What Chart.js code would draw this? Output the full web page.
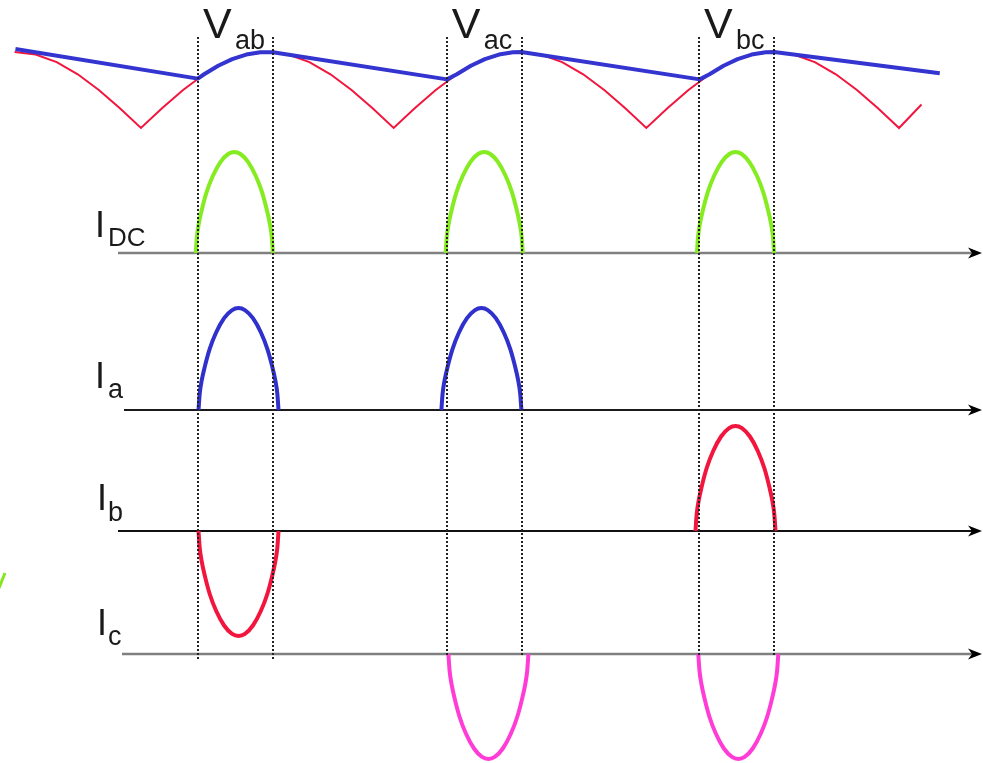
<!DOCTYPE html>
<html>
<head>
<meta charset="utf-8">
<script src="https://cdn.jsdelivr.net/npm/chart.js@4"></script>
<style>
  html, body { margin: 0; padding: 0; background: #fff; }
  canvas { display: block; }
</style>
</head>
<body>
<canvas id="chart" width="983" height="763"></canvas>
<script>
// Electrical angle in degrees, voltages and currents in per unit.

// Rectified line voltage |v| (red) and output voltage across the capacitor (blue).
const redAngles = [90, 105, 120, 135, 150, 165, 180, 195, 210, 225, 240, 255, 270, 285, 300, 315, 330, 345, 360,
  375, 390, 405, 420, 435, 450, 465, 480, 495, 510, 525, 540, 555, 570, 585, 600, 615, 630, 645, 660, 675, 690, 705, 720, 736];
const redValues = [1, 0.966, 0.866, 0.707, 0.5, 0.259, 0, 0.259, 0.5, 0.707, 0.866, 0.966, 1, 0.966, 0.866, 0.707, 0.5, 0.259, 0,
  0.259, 0.5, 0.707, 0.866, 0.966, 1, 0.966, 0.866, 0.707, 0.5, 0.259, 0, 0.259, 0.5, 0.707, 0.866, 0.966, 1, 0.966, 0.866, 0.707, 0.5, 0.259, 0, 0.31];

const blueAngles = [90.6, 220.5, 225, 235, 245, 255, 265, 274, 398, 405, 415, 425, 435, 445, 451,
  578, 585, 595, 605, 615, 625, 631, 749];
const blueValues = [1.04, 0.65, 0.707, 0.819, 0.906, 0.966, 0.996, 0.998, 0.64, 0.707, 0.819, 0.906, 0.966, 0.996, 0.999,
  0.64, 0.707, 0.819, 0.906, 0.966, 0.996, 0.999, 0.72];

// Conduction windows, one per line voltage.
const windowNames  = ['ab', 'ac', 'bc'];
const windowAngles = [[220.6, 274.1], [397.9, 451.3], [577.5, 630.9]];

// Shape of one current pulse: position across the pulse (0..1) and level (fraction of peak).
const pulseFractions = [0, 0.015, 0.04, 0.08, 0.14, 0.22, 0.32, 0.42, 0.5, 0.58, 0.68, 0.78, 0.86, 0.92, 0.96, 0.985, 1];
const pulseLevels    = [0, 0.16, 0.29, 0.43, 0.6, 0.76, 0.9, 0.98, 1, 0.98, 0.9, 0.76, 0.6, 0.43, 0.29, 0.16, 0];

// Start/end angle of every pulse, and its direction.
const idcWindows = [[219, 274], [397, 452], [576, 631]];
const idcSigns   = [1, 1, 1];
const iaWindows  = [[221, 278], [394, 451]];
const iaSigns    = [1, 1];
const ibWindows  = [[221, 278], [575, 632]];
const ibSigns    = [-1, 1];
const icWindows  = [[399, 456], [577, 634]];
const icSigns    = [-1, -1];

// --- layout ---
const W = 983, H = 763;
const X_MIN = 79.6, X_MAX = 779.8;
// baseline pixel and pixels per unit for every trace
const BAND = {
  yV:   { base: 128, unit: 76 },
  yIdc: { base: 253, unit: 101 },
  yIa:  { base: 410, unit: 102 },
  yIb:  { base: 531, unit: 105 },
  yIc:  { base: 654, unit: 105 }
};
const FONT = '"Liberation Sans", Arial, sans-serif';

function band(id) {
  const b = BAND[id];
  return { display: false, min: (b.base - H) / b.unit, max: b.base / b.unit };
}

function series(angles, values) {
  return angles.map((a, i) => ({ x: a, y: values[i] }));
}

function pulseSeries(windows, signs) {
  const pts = [];
  windows.forEach(([start, end], p) => {
    if (p > 0) pts.push({ x: start, y: null });
    pulseFractions.forEach((f, i) => pts.push({ x: start + f * (end - start), y: signs[p] * pulseLevels[i] }));
  });
  return pts;
}

function pulseSet(data, color, axis) {
  return {
    data, yAxisID: axis, borderColor: color, borderWidth: 4,
    cubicInterpolationMode: 'monotone', borderCapStyle: 'butt', borderJoinStyle: 'round',
    pointRadius: 0, fill: false
  };
}

function subLabel(ctx, main, sub, x, y, mainSize, subSize, dx, dy) {
  ctx.fillStyle = '#1a1a1a';
  ctx.textAlign = 'left';
  ctx.textBaseline = 'alphabetic';
  ctx.font = mainSize + 'px ' + FONT;
  ctx.fillText(main, x, y);
  ctx.font = subSize + 'px ' + FONT;
  ctx.fillText(sub, x + dx, y + dy);
}

function arrowAxis(ctx, x0, y, color, width) {
  ctx.beginPath();
  ctx.strokeStyle = color;
  ctx.lineWidth = width;
  ctx.moveTo(x0, y);
  ctx.lineTo(974, y);
  ctx.stroke();
  ctx.beginPath();
  ctx.fillStyle = '#000';
  ctx.moveTo(982, y);
  ctx.lineTo(968, y - 5.5);
  ctx.lineTo(972, y);
  ctx.lineTo(968, y + 5.5);
  ctx.closePath();
  ctx.fill();
}

const diagramPlugin = {
  id: 'diagram',
  beforeDatasetsDraw(c) {
    const ctx = c.ctx;
    ctx.save();
    arrowAxis(ctx, 118, c.scales.yIdc.getPixelForValue(0), '#808080', 2.5);
    arrowAxis(ctx, 124, c.scales.yIa.getPixelForValue(0), '#1a1a1a', 2);
    arrowAxis(ctx, 118, c.scales.yIb.getPixelForValue(0), '#111', 2);
    arrowAxis(ctx, 122, c.scales.yIc.getPixelForValue(0), '#808080', 2.5);
    ctx.restore();
  },
  afterDatasetsDraw(c) {
    const ctx = c.ctx, xs = c.scales.x;
    ctx.save();

    // Commutation markers: dotted verticals bounding each conduction window.
    ctx.strokeStyle = '#222';
    ctx.lineWidth = 2;
    ctx.setLineDash([2, 2]);
    windowAngles.forEach((pair, i) => {
      const bottom = i === 0 ? 660 : 655;
      pair.forEach(a => {
        const x = Math.round(xs.getPixelForValue(a));
        ctx.beginPath();
        ctx.moveTo(x, 37);
        ctx.lineTo(x, bottom);
        ctx.stroke();
      });
    });
    ctx.setLineDash([]);

    // V labels above each window
    windowAngles.forEach((pair, i) => {
      const x = xs.getPixelForValue(pair[0]) + 5;
      subLabel(ctx, 'V', windowNames[i], x, 38, 43, 27, 32, 11);
    });

    // current trace labels
    subLabel(ctx, 'I', 'DC', 95, 237, 36, 26, 13, 9);
    subLabel(ctx, 'I', 'a', 95, 388, 36, 27, 13, 10);
    subLabel(ctx, 'I', 'b', 97, 510, 36, 27, 11, 11);
    subLabel(ctx, 'I', 'c', 97, 635, 36, 27, 11, 10);

    // stray green stroke on the left edge
    ctx.beginPath();
    ctx.strokeStyle = '#84e61e';
    ctx.lineWidth = 3;
    ctx.moveTo(-1, 588);
    ctx.lineTo(5, 573);
    ctx.stroke();
    ctx.restore();
  }
};

new Chart(document.getElementById('chart'), {
  type: 'line',
  plugins: [diagramPlugin],
  data: {
    datasets: [
      { data: series(blueAngles, blueValues), yAxisID: 'yV', borderColor: '#3434d0', borderWidth: 4,
        tension: 0, pointRadius: 0, borderJoinStyle: 'round', fill: false },
      { data: series(redAngles, redValues), yAxisID: 'yV', borderColor: '#f2163e', borderWidth: 2,
        tension: 0, pointRadius: 0, fill: false },
      pulseSet(pulseSeries(idcWindows, idcSigns), '#86ec22', 'yIdc'),
      pulseSet(pulseSeries(iaWindows, iaSigns), '#3030cc', 'yIa'),
      pulseSet(pulseSeries(ibWindows, ibSigns), '#f2163e', 'yIb'),
      pulseSet(pulseSeries(icWindows, icSigns), '#ff3cd6', 'yIc')
    ]
  },
  options: {
    responsive: false,
    animation: false,
    devicePixelRatio: 1,
    layout: { padding: 0 },
    plugins: { legend: { display: false }, tooltip: { enabled: false } },
    scales: {
      x: { type: 'linear', display: false, min: X_MIN, max: X_MAX },
      yV: band('yV'),
      yIdc: band('yIdc'),
      yIa: band('yIa'),
      yIb: band('yIb'),
      yIc: band('yIc')
    }
  }
});
</script>
</body>
</html>
